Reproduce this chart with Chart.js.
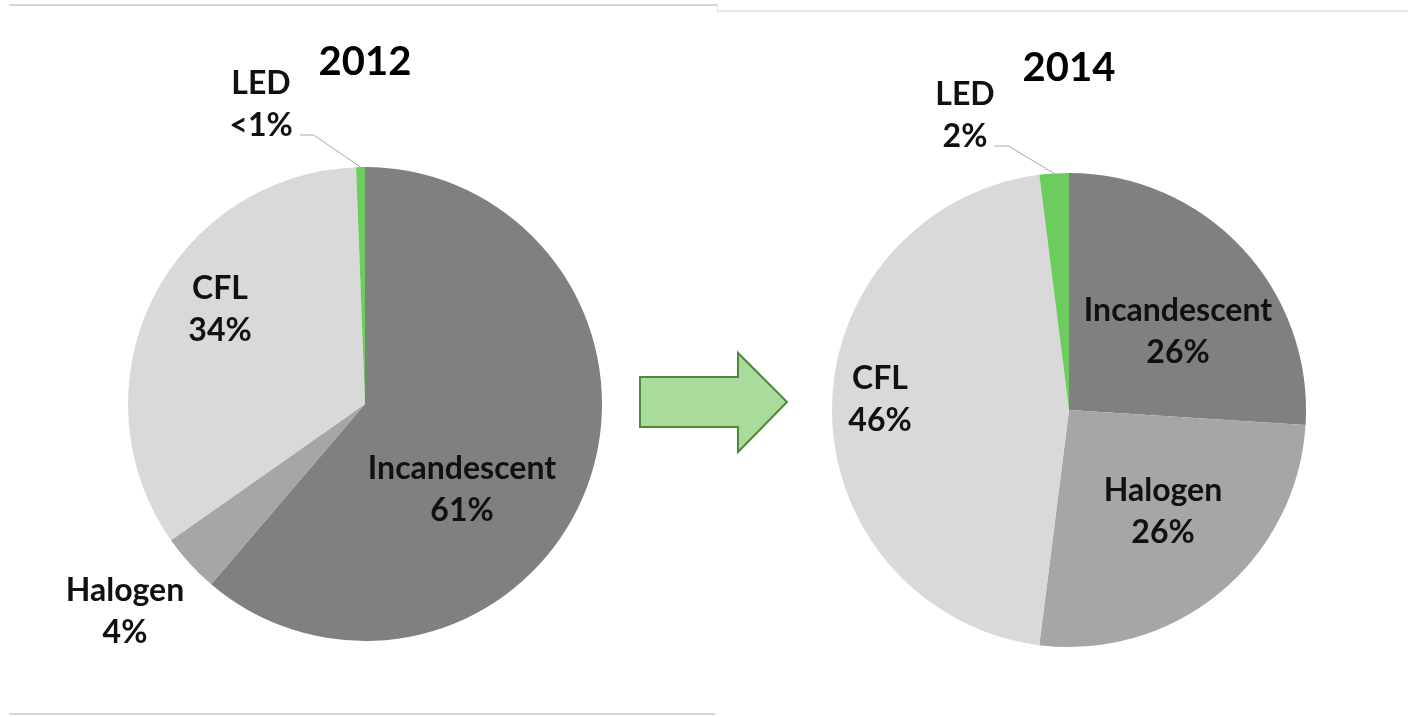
<!DOCTYPE html>
<html>
<head>
<meta charset="utf-8">
<title>Lighting technology share, 2012 vs 2014</title>
<script src="https://cdn.jsdelivr.net/npm/chart.js@4/dist/chart.umd.min.js"></script>
<style>
  html, body { margin: 0; padding: 0; background: #ffffff; }
  #stage { position: relative; width: 1408px; height: 717px; overflow: hidden; background: #ffffff; }
  .panel { position: absolute; top: 0; width: 704px; height: 717px; }
  .panel canvas { display: block; }
  .rule { position: absolute; background: #d6d6d6; }
  #arrow { position: absolute; left: 0; top: 0; pointer-events: none; }
</style>
</head>
<body>
<div id="stage">
  <div class="rule" style="left:9px; top:4px; width:709px; height:2px;"></div>
  <div class="rule" style="left:717px; top:4px; width:1px; height:8px; background:#e2e2e2;"></div>
  <div class="rule" style="left:718px; top:10px; width:690px; height:2px; background:#e6e6e6;"></div>
  <div class="rule" style="left:9px; top:713px; width:706px; height:2px;"></div>

  <div class="panel" style="left:0;"><canvas id="pie2012" width="704" height="717"></canvas></div>
  <div class="panel" style="left:704px;"><canvas id="pie2014" width="704" height="717"></canvas></div>

  <svg id="arrow" width="1408" height="717" viewBox="0 0 1408 717">
    <polygon points="640,377 738,377 738,353 787,402 738,452 738,427 640,427"
             fill="#a9dc9c" stroke="#4f8a3c" stroke-width="2" stroke-linejoin="miter"/>
  </svg>
</div>

<script>
// Lamp technologies, in drawing order (clockwise from 12 o'clock)
const categories = ['Incandescent', 'Halogen', 'CFL', 'LED'];

// Share of installed lamps, percent
const share2012 = [61, 4, 34, 0.6];
const share2014 = [26, 26, 46, 2];

const years = ['2012', '2014'];

const sliceColors = ['#808080', '#a6a6a6', '#d9d9d9', '#6dcc5e'];

const FONT = 'Lato, "Open Sans", "DejaVu Sans", sans-serif';
const TEXT = '#111111';

function pctText(v) {
  return v < 1 ? '<1%' : Math.round(v) + '%';
}

// Where each two-line label sits, as an offset from the pie centre.
// leader: draw a connector from the label to the slice's outer edge.
const labelPlacement2012 = [
  { dx: 97,   dy: 86 },
  { dx: -240, dy: 208 },
  { dx: -145, dy: -94 },
  { dx: -104, dy: -299, leader: true }
];
const labelPlacement2014 = [
  { dx: 109,  dy: -78 },
  { dx: 94,   dy: 102 },
  { dx: -189, dy: -10 },
  { dx: -104, dy: -294, leader: true }
];

const sliceLabels = {
  id: 'sliceLabels',
  afterDatasetsDraw(chart, args, opts) {
    const ctx = chart.ctx;
    const meta = chart.getDatasetMeta(0);
    const values = chart.data.datasets[0].data;
    const lineGap = 42;
    ctx.save();
    ctx.font = 'bold 32px ' + FONT;
    ctx.fillStyle = TEXT;
    ctx.textAlign = 'center';
    ctx.textBaseline = 'middle';
    meta.data.forEach((arc, i) => {
      const p = opts.placement[i];
      const cx = arc.x + p.dx;
      const cy = arc.y + p.dy;
      const top = cy - lineGap / 2;
      const bottom = cy + lineGap / 2;
      const pct = pctText(values[i]);
      ctx.fillText(chart.data.labels[i], cx, top);
      ctx.fillText(pct, cx, bottom);
      if (p.leader) {
        const w = ctx.measureText(pct).width;
        const sx = cx + w / 2 + 7;
        const sy = bottom + 9;
        const mid = (arc.startAngle + arc.endAngle) / 2;
        const ex = arc.x + Math.cos(mid) * arc.outerRadius;
        const ey = arc.y + Math.sin(mid) * arc.outerRadius;
        ctx.beginPath();
        ctx.strokeStyle = '#a6a6a6';
        ctx.lineWidth = 1;
        ctx.moveTo(sx, sy);
        ctx.lineTo(sx + 14, sy);
        ctx.lineTo(ex, ey);
        ctx.stroke();
      }
    });
    ctx.restore();
  }
};

function makePie(canvasId, year, values, placement, titleTop, padBottom) {
  return new Chart(document.getElementById(canvasId), {
    type: 'pie',
    data: {
      labels: categories,
      datasets: [{
        data: values,
        backgroundColor: sliceColors,
        borderWidth: 0,
        hoverOffset: 0
      }]
    },
    options: {
      responsive: false,
      devicePixelRatio: 1,
      animation: false,
      layout: { padding: { left: 128, right: 102, top: 0, bottom: padBottom } },
      plugins: {
        legend: { display: false },
        tooltip: { enabled: false },
        title: {
          display: true,
          text: year,
          color: '#000000',
          font: { family: FONT, size: 40, weight: 'bold', lineHeight: 1.2 },
          padding: { top: titleTop, bottom: 81 }
        },
        sliceLabels: { placement }
      }
    },
    plugins: [sliceLabels]
  });
}

makePie('pie2012', years[0], share2012, labelPlacement2012, 38, 76);
makePie('pie2014', years[1], share2014, labelPlacement2014, 44, 70);
</script>
</body>
</html>
